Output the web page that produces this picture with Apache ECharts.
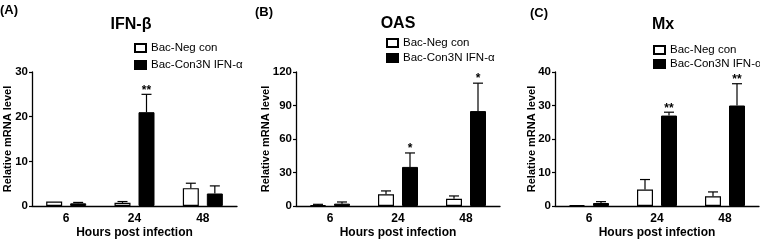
<!DOCTYPE html>
<html>
<head>
<meta charset="utf-8">
<script src="https://cdn.jsdelivr.net/npm/echarts@6/dist/echarts.min.js"></script>
<style>
  html, body { margin: 0; padding: 0; background: #fff; }
  #container { width: 760px; height: 241px; }
</style>
</head>
<body>
<div id="container"></div>
<script>
// hours post infection
var categories = ['6', '24', '48']
var legendNames = ['Bac-Neg con', 'Bac-Con3N IFN-α']

// IFN-beta
var ifnNeg = [1.0, 0.7, 4.0]
var ifnNegErr = [0, 0.3, 1.1]
var ifnCon = [0.6, 21, 2.8]
var ifnConErr = [0.2, 4, 1.7]
var ifnSig = ['', '**', '']

// OAS
var oasNeg = [0.6, 10.5, 6.5]
var oasNegErr = [0.9, 3, 2.5]
var oasCon = [2.1, 35, 85]
var oasConErr = [1.5, 12.5, 25]
var oasSig = ['', '*', '*']

// Mx
var mxNeg = [0.3, 4.9, 2.9]
var mxNegErr = [0, 3, 1.3]
var mxCon = [0.9, 27, 30]
var mxConErr = [0.4, 1, 6.5]
var mxSig = ['', '**', '**']

var font = 'Liberation Sans, Arial, sans-serif'

var dom = document.getElementById('container')
var myChart = echarts.init(dom, null, { renderer: 'canvas' })

// error bar (upper only) + significance stars
function errSeries(idx, means, errs, offset, sig) {
    return {
        type: 'custom',
        name: 'err' + idx + offset,
        xAxisIndex: idx,
        yAxisIndex: idx,
        silent: true,
        z: 5,
        data: means.map(function (m, i) { return [i, m, errs[i]] }),
        renderItem: function (params, api) {
            var i = api.value(0)
            var m = api.value(1)
            var e = api.value(2)
            var base = api.coord([i, m])
            var top = api.coord([i, m + e])
            var x = base[0] + offset
            var children = []
            if (e > 0) {
                children.push({
                    type: 'line',
                    shape: { x1: x, y1: base[1], x2: x, y2: top[1] },
                    style: { stroke: '#000', lineWidth: 1.2 }
                })
                children.push({
                    type: 'line',
                    shape: { x1: x - 5, y1: top[1], x2: x + 5, y2: top[1] },
                    style: { stroke: '#000', lineWidth: 1.2 }
                })
            }
            if (sig && sig[params.dataIndex]) {
                children.push({
                    type: 'text',
                    style: {
                        text: sig[params.dataIndex],
                        x: x, y: top[1] - 4,
                        textAlign: 'center', textVerticalAlign: 'middle',
                        font: 'bold 12px ' + font, fill: '#000'
                    }
                })
            }
            return { type: 'group', children: children }
        }
    }
}

function barPair(idx, neg, con) {
    return [
        {
            type: 'bar', name: legendNames[0], xAxisIndex: idx, yAxisIndex: idx,
            data: neg, barWidth: 16, barGap: '50%',
            itemStyle: { color: '#fff', borderColor: '#000', borderWidth: 1.2 }
        },
        {
            type: 'bar', name: legendNames[1], xAxisIndex: idx, yAxisIndex: idx,
            data: con, barWidth: 16, barGap: '50%',
            itemStyle: { color: '#000', borderColor: '#000', borderWidth: 1 }
        }
    ]
}

var grids = [
    { left: 32, top: 72, width: 205, height: 134, outerBoundsMode: 'none' },
    { left: 296, top: 72, width: 204, height: 134, outerBoundsMode: 'none' },
    { left: 555, top: 72, width: 204, height: 134, outerBoundsMode: 'none' }
]
var yMax = [30, 120, 40]
var yStep = [10, 30, 10]
var yNameGap = [19, 25, 18]

var axisLine = { show: true, lineStyle: { color: '#000', width: 1.3 } }

var option = {
    animation: false,
    textStyle: { fontFamily: font },
    grid: grids,
    xAxis: grids.map(function (g, i) {
        return {
            type: 'category', gridIndex: i, data: categories,
            axisLine: axisLine, axisTick: { show: false },
            axisLabel: { color: '#000', fontWeight: 'bold', fontSize: 12, margin: 7 },
            name: 'Hours post infection', nameLocation: 'middle', nameGap: 21,
            nameMoveOverlap: false,
            nameTextStyle: { color: '#000', fontWeight: 'bold', fontSize: 12 }
        }
    }),
    yAxis: grids.map(function (g, i) {
        return {
            type: 'value', gridIndex: i, min: 0, max: yMax[i], interval: yStep[i],
            axisLine: axisLine,
            axisTick: { show: true, length: 3, lineStyle: { color: '#000', width: 1.2 } },
            splitLine: { show: false },
            axisLabel: { color: '#000', fontWeight: 'bold', fontSize: 11.5, margin: 4 },
            name: 'Relative mRNA level', nameLocation: 'middle', nameRotate: 90,
            nameGap: yNameGap[i], nameMoveOverlap: false,
            nameTextStyle: { color: '#000', fontWeight: 'bold', fontSize: 11 }
        }
    }),
    legend: [
        { left: 134, top: 42, itemGap: 5 },
        { left: 386, top: 37, itemGap: 3 },
        { left: 653, top: 44, itemGap: 2 }
    ].map(function (l) {
        return {
            data: legendNames, orient: 'vertical', left: l.left, top: l.top,
            padding: 0, itemGap: l.itemGap, itemWidth: 11, itemHeight: 8, icon: 'rect',
            selectedMode: false,
            textStyle: { color: '#000', fontSize: 11.5 }
        }
    }),
    graphic: [
        { type: 'text', x: 0, y: 4, style: { text: '(A)', font: 'bold 13px ' + font, fill: '#000' } },
        { type: 'text', x: 255, y: 6, style: { text: '(B)', font: 'bold 13px ' + font, fill: '#000' } },
        { type: 'text', x: 530, y: 7, style: { text: '(C)', font: 'bold 13px ' + font, fill: '#000' } },
        { type: 'text', x: 131, y: 17, style: { text: 'IFN-β', textAlign: 'center', font: 'bold 16px ' + font, fill: '#000' } },
        { type: 'text', x: 398, y: 16, style: { text: 'OAS', textAlign: 'center', font: 'bold 16px ' + font, fill: '#000' } },
        { type: 'text', x: 663, y: 17, style: { text: 'Mx', textAlign: 'center', font: 'bold 16px ' + font, fill: '#000' } }
    ],
    series: [].concat(
        barPair(0, ifnNeg, ifnCon),
        barPair(1, oasNeg, oasCon),
        barPair(2, mxNeg, mxCon),
        [
            errSeries(0, ifnNeg, ifnNegErr, -12, null),
            errSeries(0, ifnCon, ifnConErr, 12, ifnSig),
            errSeries(1, oasNeg, oasNegErr, -12, null),
            errSeries(1, oasCon, oasConErr, 12, oasSig),
            errSeries(2, mxNeg, mxNegErr, -12, null),
            errSeries(2, mxCon, mxConErr, 12, mxSig)
        ]
    )
}

myChart.setOption(option)
window.addEventListener('resize', myChart.resize)
</script>
</body>
</html>
